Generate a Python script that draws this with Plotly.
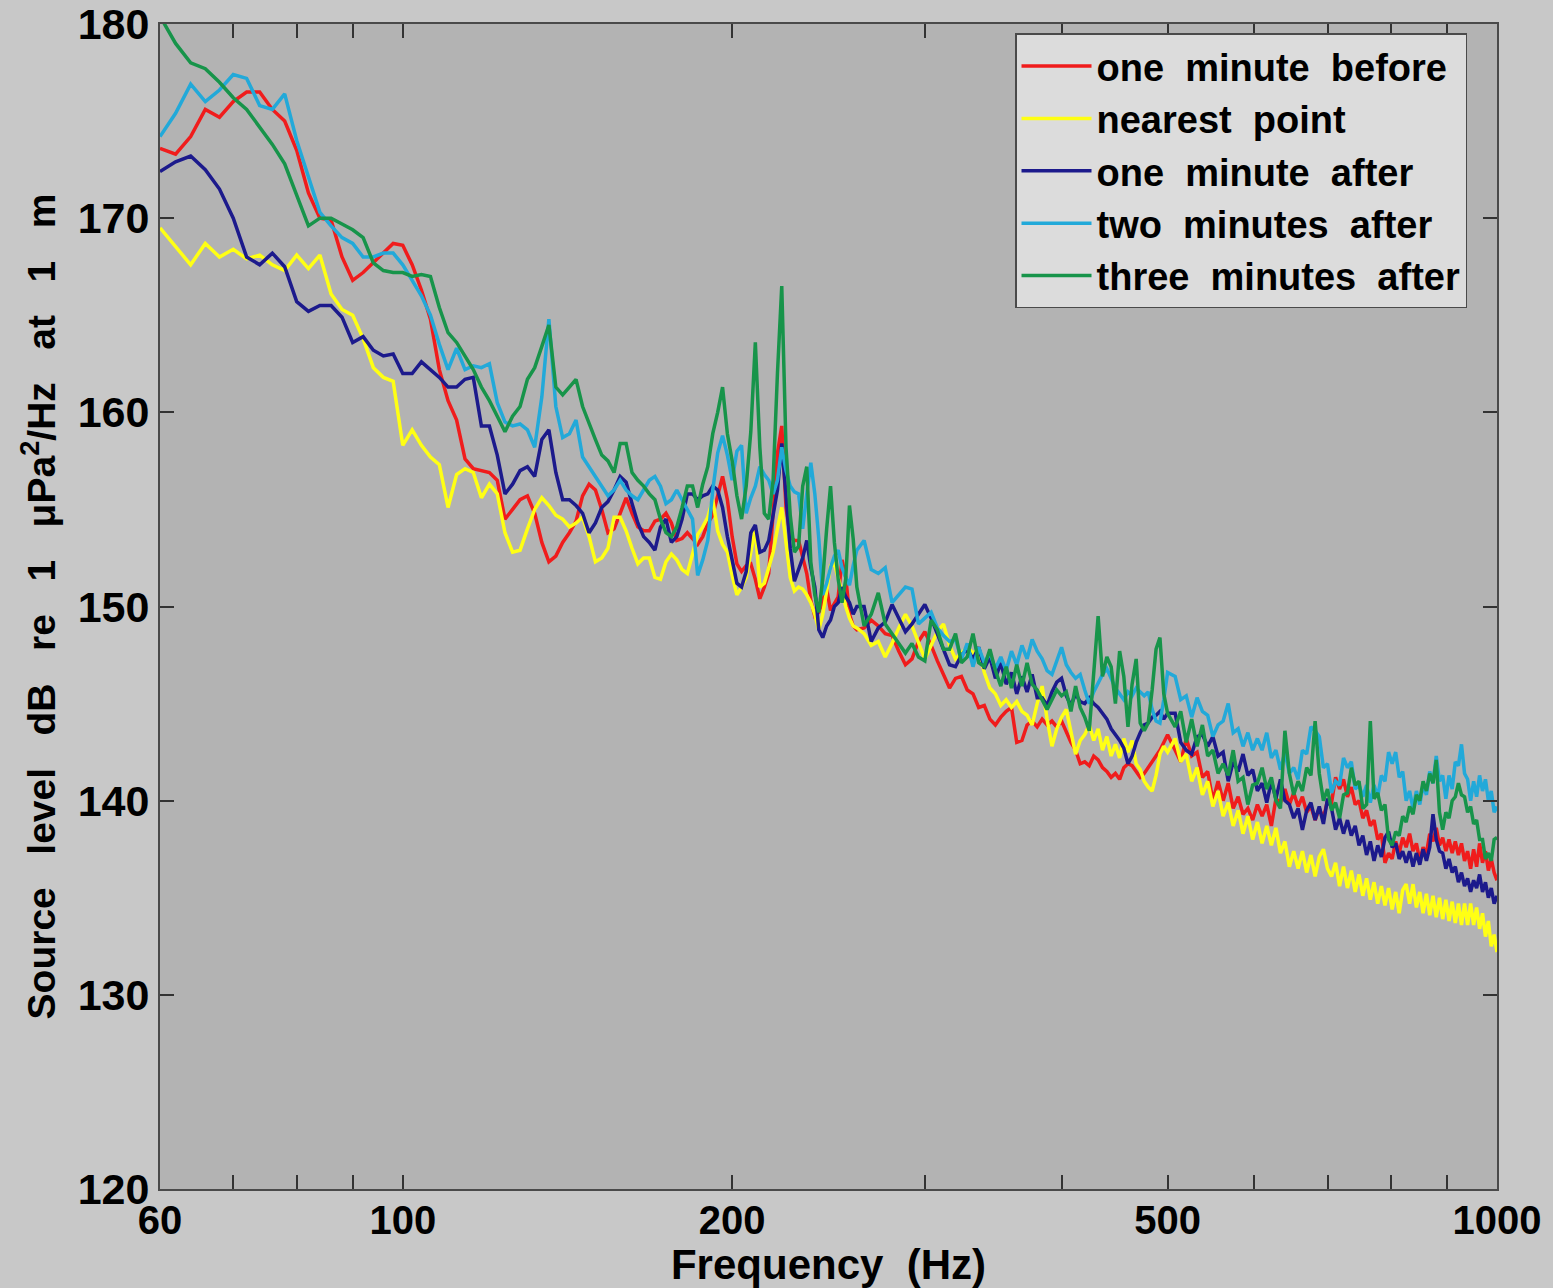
import math
import plotly.graph_objects as go

# ---------------- frequency grid (Hz) ----------------
FREQ_A = [60, 62, 64, 66, 68, 70, 72, 74, 76, 78, 80, 82, 84, 86, 88, 90, 92, 94, 96, 98,
          100, 102, 104, 106, 108, 110, 112, 114, 116, 118, 120, 122, 124, 126, 128, 130, 132, 134, 136, 138,
          140, 142, 144, 146, 148, 150, 152, 154, 156, 158, 160, 162, 164, 166, 168, 170, 172, 174, 176, 178,
          180, 182, 184, 186, 188, 190, 192, 194, 196, 198, 200, 202, 204, 206, 208, 210, 212, 214, 216, 218,
          220, 222, 224, 226, 228, 230, 232, 234, 236, 238, 240, 242, 244, 246, 248, 250, 252, 254, 256, 258, 260]
FREQ_B = [264, 268, 272, 276, 280, 284, 288, 292, 296, 300, 304, 308, 312, 316, 320, 324, 328, 332, 336, 340,
          344, 348, 352, 356, 360, 364, 368, 372, 376, 380, 384, 388, 392, 396, 400, 404, 408, 412, 416, 420,
          424, 428, 432, 436, 440, 444, 448, 452, 456, 460, 464, 468, 472, 476, 480, 484, 488, 492, 496, 500]
FREQ_C = [508, 514, 520, 526, 532, 538, 544, 550, 556, 562, 568, 574, 580, 586, 592, 598, 604, 610, 616, 622,
          628, 634, 640, 646, 652, 658, 664, 670, 676, 682, 688, 694, 700, 706, 712, 718, 724, 730, 736, 742,
          748, 754, 760, 766, 772, 778, 784, 790, 796, 802, 808, 814, 820, 826, 832, 838, 844, 850, 856, 862,
          868, 874, 880, 886, 892, 898, 904, 910, 916, 922, 928, 934, 940, 946, 952, 958, 964, 970, 976, 982,
          988, 994, 1000]
FREQ = FREQ_A + FREQ_B + FREQ_C

# ---------------- series (dB re 1 uPa^2/Hz at 1 m) ----------------
RED_A = [173.6, 173.3, 174.2, 175.6, 175.2, 176.0, 176.5, 176.5, 175.6, 175.0, 173.5, 171.3, 170.0, 169.9, 168.0, 166.8,
         167.2, 167.7, 168.2, 168.7, 168.6, 167.6, 166.3, 164.8, 162.2, 160.6, 159.6, 157.6, 157.1, 157.0, 156.9, 156.5,
         154.5, 155.0, 155.5, 155.7, 154.8, 153.3, 152.3, 152.6, 153.3, 153.8, 154.4, 155.7, 156.3, 156.0, 155.0, 153.8,
         154.0, 154.8, 155.6, 154.8, 154.1, 153.9, 153.9, 154.4, 154.5, 154.8, 154.3, 153.4, 153.5, 153.8, 153.5, 153.2,
         153.6, 154.3, 154.7, 155.7, 156.7, 155.5, 153.6,
         152.2, 151.8, 152.1, 152.2, 151.4, 150.4, 151.0, 151.7, 154.8, 157.9, 159.3, 155.1, 153.6, 153.4, 153.4, 152.6,
         151.7, 150.3, 149.5, 149.7, 150.3, 150.9, 149.8, 150.2, 150.5, 152.4, 151.5, 149.6, 149.0, 148.8]
RED_B = [148.9, 149.3, 149.0, 148.6, 148.5, 147.7, 147.0, 147.3, 148.2, 148.7, 148.0, 147.2, 146.5, 145.8, 146.3, 146.4,
         145.7, 145.5, 144.8, 144.9, 144.2, 143.9, 144.3, 144.6, 144.8, 143.0, 143.1, 143.9, 144.1, 143.8, 144.2, 143.9,
         144.1, 143.8, 144.1, 143.5, 143.0, 142.6, 141.9, 142.0, 141.8, 142.3, 142.1, 141.7, 141.5, 141.2, 141.4, 141.1,
         141.7, 141.9, 141.8, 141.5, 141.2, 141.4, 141.7, 142.0, 142.3, 142.6, 143.0, 143.4]
RED_C = [142.6, 142.0, 143.2, 142.3, 142.5, 141.2, 141.5, 140.0, 141.0, 140.0, 140.9, 139.6, 140.2, 139.3, 139.6, 139.0,
         139.8, 139.2, 139.8, 138.7, 140.1, 139.9, 140.6, 139.8, 140.4, 139.7, 140.2, 139.4, 139.7, 139.0, 139.6, 139.1,
         140.0, 139.9, 141.2, 140.6, 141.1, 140.2, 140.7, 139.8, 140.0, 139.1, 139.5, 138.7, 139.0, 138.0, 138.3, 136.8,
         137.3, 137.0, 137.9, 137.3, 138.1, 137.6, 138.3, 137.4, 137.8, 136.9, 137.6, 137.3, 138.3, 137.9, 138.6, 137.7,
         138.1, 137.4, 138.0, 137.3, 137.9, 137.2, 137.8, 136.9, 137.4, 136.5, 137.5, 136.6, 137.8, 136.8, 137.4, 136.4,
         137.0, 136.3, 135.9]

YELLOW_A = [169.5, 168.5, 167.6, 168.7, 168.0, 168.4, 167.9, 168.1, 167.6, 167.3, 168.1, 167.4, 168.1, 166.1, 165.3, 165.0,
            163.8, 162.3, 161.8, 161.6, 158.3, 159.1, 158.3, 157.7, 157.3, 155.1, 156.8, 157.1, 156.9, 155.6, 156.3, 155.8,
            153.8, 152.8, 152.9, 154.0, 155.0, 155.6, 155.2, 154.7, 154.5, 154.1, 154.3, 154.6, 153.6, 152.3, 152.5, 153.0,
            154.6, 154.6, 153.9, 153.0, 152.2, 152.5, 152.5, 151.5, 151.4, 152.3, 152.7, 152.4, 151.9, 151.7, 152.7, 153.7,
            154.1, 154.6, 155.5, 153.9, 153.2, 152.8, 151.6,
            150.6, 151.0, 151.5, 152.8, 154.0, 151.0, 151.2, 152.0, 152.8, 154.0, 155.1, 153.3, 151.5, 150.8, 151.0, 150.9,
            150.6, 150.2, 149.6, 148.8, 149.6, 150.8, 152.1, 152.2, 151.4, 150.7, 150.0, 149.4, 149.0, 148.9]
YELLOW_B = [148.6, 148.0, 148.2, 147.4, 148.1, 148.9, 149.6, 149.0, 148.2, 147.3, 148.0, 148.7, 149.1, 148.0, 147.3, 147.6,
            147.9, 147.6, 147.8, 146.6, 145.8, 145.5, 144.9, 145.2, 144.8, 145.1, 144.6, 144.4, 143.9, 145.0, 145.9, 144.2,
            142.8, 143.7, 144.3, 144.7, 143.5, 142.4, 143.1, 143.4, 143.9, 143.1, 143.7, 142.6, 143.3, 142.3, 142.9, 142.2,
            143.2, 142.5, 143.1, 141.9, 141.6, 141.0, 140.7, 140.5, 141.3, 142.4, 142.8, 142.5]
YELLOW_C = [143.2, 142.0, 142.4, 141.0, 141.7, 140.3, 141.0, 139.7, 140.5, 139.2, 139.9, 138.7, 139.5, 138.3, 139.2, 138.0,
            138.9, 137.8, 138.7, 137.7, 138.6, 137.3, 137.9, 136.6, 137.4, 136.5, 137.4, 136.3, 137.2, 136.1, 137.1, 137.5,
            136.5, 136.1, 136.8, 135.6, 136.6, 135.5, 136.4, 135.3, 136.2, 135.1, 136.0, 134.9, 135.8, 134.7, 135.6, 134.6,
            135.5, 134.4, 135.3, 134.2, 135.4, 135.7, 134.7, 135.7, 134.5, 135.3, 134.2, 135.2, 134.1, 135.1, 134.0, 135.0,
            133.9, 134.9, 133.8, 134.8, 133.7, 134.7, 133.6, 134.7, 133.6, 134.7, 133.6, 134.5, 133.4, 134.2, 133.0, 133.8,
            132.5, 133.1, 132.2]

NAVY_A = [172.4, 172.9, 173.2, 172.5, 171.5, 170.0, 168.0, 167.6, 168.2, 167.5, 165.7, 165.2, 165.5, 165.5, 164.9, 163.6,
          163.9, 163.2, 162.9, 163.0, 162.0, 162.0, 162.6, 162.2, 161.8, 161.3, 161.3, 161.7, 161.8, 159.3, 159.3, 157.8,
          155.8, 156.3, 157.0, 157.2, 156.7, 158.6, 159.1, 156.9, 155.5, 155.5, 155.2, 154.8, 153.8, 154.3, 155.1, 155.4,
          156.0, 156.7, 156.4, 155.3, 154.3, 153.6, 153.3, 152.9, 154.1, 154.5, 153.3, 153.6, 154.5, 155.8, 155.8, 155.5,
          155.7, 155.8, 156.2, 156.0, 155.1, 153.6, 152.4,
          151.2, 151.0, 151.8, 153.8, 154.2, 152.8, 152.9, 153.4, 154.6, 156.0, 158.4, 155.6, 153.0, 151.3, 151.9, 152.5,
          153.4, 152.0, 151.0, 148.8, 148.4, 149.0, 149.3, 150.0, 150.2, 151.0, 150.5, 150.2, 149.6, 150.0]
NAVY_B = [150.0, 148.2, 148.9, 149.2, 150.1, 149.4, 148.7, 149.1, 149.6, 150.1, 149.4, 148.6, 147.9, 147.0, 146.9, 147.5,
          147.8, 147.3, 147.9, 146.8, 147.4, 146.3, 147.1, 146.0, 146.6, 145.5, 146.4, 145.6, 146.5, 145.3, 145.3, 144.9,
          145.6, 146.1, 146.3, 145.4, 144.9, 145.5, 145.1, 145.0, 145.3, 145.0, 144.8, 144.5, 144.2, 143.7, 143.4, 143.1,
          142.7, 141.9, 142.3, 143.0, 143.5, 143.9, 144.0, 144.3, 144.4, 144.6, 144.2, 144.5]
NAVY_C = [144.5, 143.0, 142.6, 142.4, 143.3, 143.4, 142.8, 143.3, 142.3, 142.5, 141.0, 142.0, 141.5, 142.4, 141.3, 141.6,
          140.5, 140.9, 139.9, 141.0, 140.1, 141.1, 140.0, 139.8, 139.1, 139.6, 138.5, 139.5, 139.9, 139.0, 139.7, 138.8,
          140.1, 139.6, 138.5, 139.1, 138.3, 139.0, 138.2, 138.7, 137.7, 138.2, 137.2, 137.9, 136.9, 137.7, 137.1, 138.1,
          138.4, 137.6, 137.8, 137.0, 137.4, 136.8, 137.4, 136.6, 137.3, 136.7, 137.5, 136.9, 137.6, 139.3, 138.0, 137.4,
          137.3, 136.5, 137.0, 136.3, 136.6, 135.8, 136.3, 135.6, 136.0, 135.3, 135.9, 135.5, 136.2, 135.3, 135.8, 135.0,
          135.5, 134.7, 135.1]

CYAN_A = [174.2, 175.4, 176.9, 176.0, 176.6, 177.4, 177.2, 175.8, 175.6, 176.4, 174.0, 172.1, 170.3, 169.6, 169.0, 168.7,
          168.0, 168.0, 168.2, 168.2, 167.6, 166.8, 166.0, 165.0, 163.5, 162.2, 163.3, 162.2, 162.4, 162.3, 162.5, 160.5,
          159.5, 159.3, 159.4, 159.1, 158.2, 160.8, 164.8, 160.3, 158.7, 158.9, 159.6, 157.7, 157.2, 156.7, 156.2, 155.7,
          156.0, 156.5, 156.0, 155.7, 155.5, 156.0, 156.5, 156.7, 156.2, 155.3, 155.5, 156.0, 155.5, 155.0, 154.5, 151.6,
          152.4, 153.4, 156.0, 157.9, 158.8, 157.8, 156.5,
          158.0, 158.3, 154.8, 155.6, 156.2, 157.2, 156.8, 156.5, 155.8, 156.5, 158.2, 157.0, 156.2, 155.9, 155.8, 154.0,
          155.8, 157.4, 155.8, 153.5, 150.6, 151.2, 152.0, 152.6, 152.9, 152.0, 151.5, 151.1, 152.1, 152.9]
CYAN_B = [153.4, 151.9, 151.7, 152.0, 150.2, 150.6, 151.0, 150.9, 149.1, 149.4, 149.7, 148.9, 148.5, 148.2, 148.3, 147.3,
          148.1, 146.9, 147.9, 147.1, 147.6, 146.8, 147.4, 146.7, 147.7, 147.0, 148.0, 147.3, 148.3, 147.7, 147.3, 146.7,
          146.5, 147.2, 147.9, 147.0, 146.6, 146.3, 146.5, 145.7, 145.0, 145.6, 146.1, 146.5, 146.8, 146.3, 145.8, 145.5,
          145.2, 145.6, 145.4, 145.8, 145.6, 145.4, 145.6, 144.7, 144.1, 144.0, 145.2, 146.6]
CYAN_C = [146.4, 145.2, 145.4, 144.3, 145.3, 144.6, 144.4, 143.3, 143.9, 144.1, 145.0, 143.5, 143.7, 142.8, 143.5, 142.6,
          143.2, 142.6, 143.5, 142.2, 142.6, 141.6, 142.5, 141.4, 141.7, 141.1, 142.6, 142.4, 143.8, 143.6, 143.3, 141.7,
          141.9, 140.4, 141.0, 140.8, 142.2, 141.7, 142.0, 140.6, 140.8, 140.2, 140.8, 139.9, 140.8, 140.2, 141.3, 141.0,
          142.5, 141.9, 142.5, 141.2, 141.5, 140.0, 140.5, 139.6, 140.5, 139.8, 140.8, 140.3, 141.5, 140.9, 142.3, 141.0,
          141.3, 140.1, 141.3, 140.6, 142.0, 141.8, 142.9, 141.4, 141.1, 140.0, 141.0, 140.2, 141.3, 140.5, 141.1, 140.0,
          140.5, 139.4, 139.7]

GREEN_A = [180.4, 179.0, 178.0, 177.7, 177.0, 176.2, 175.6, 174.7, 173.8, 172.8, 171.2, 169.6, 170.0, 170.0, 169.7, 169.4,
           169.0, 167.7, 167.3, 167.2, 167.2, 167.0, 167.1, 167.0, 165.4, 164.1, 163.6, 162.9, 162.2, 161.3, 160.6, 159.8,
           159.0, 159.8, 160.3, 161.7, 162.3, 163.4, 164.5, 161.3, 160.9, 161.3, 161.7, 160.3, 159.4, 158.6, 157.8, 157.5,
           156.9, 158.4, 158.4, 156.9, 156.5, 156.2, 155.8, 155.5, 154.5, 153.8, 153.6, 154.1, 155.1, 156.2, 156.2, 155.1,
           156.3, 157.2, 158.9, 160.0, 161.3, 158.9, 157.5,
           155.7, 154.5, 156.2, 159.0, 163.6, 158.2, 154.8, 154.5, 156.5, 162.0, 166.5, 158.2, 154.7, 152.8, 153.1, 156.2,
           157.2, 152.3, 150.6, 149.7, 151.4, 154.0, 156.2, 153.3, 151.4, 150.2, 151.4, 155.2, 153.5, 151.0]
GREEN_B = [149.0, 149.6, 150.7, 149.1, 148.6, 148.1, 147.6, 148.1, 147.4, 147.2, 149.3, 148.8, 147.8, 147.8, 148.6, 147.1,
           147.4, 148.6, 147.1, 146.9, 147.8, 146.7, 145.9, 146.9, 145.8, 147.0, 145.9, 147.1, 146.0, 145.7, 145.2, 144.7,
           145.2, 145.7, 145.4, 145.6, 144.6, 145.9, 144.8, 144.3, 143.6, 146.4, 149.5, 146.4, 147.4, 146.9, 145.0, 147.7,
           146.4, 143.8, 146.0, 147.3, 144.0, 143.6, 144.0, 145.7, 147.8, 148.4, 145.5, 144.5]
GREEN_C = [143.8, 144.6, 143.0, 144.2, 142.8, 143.9, 142.3, 142.6, 141.4, 141.9, 141.3, 142.6, 141.0, 141.2, 139.8, 140.8,
           140.9, 141.7, 140.6, 141.2, 140.0, 139.6, 143.6, 141.4, 140.3, 141.0, 140.5, 141.7, 141.3, 144.1, 141.4, 140.0,
           140.6, 139.5, 139.9, 139.1, 140.3, 140.4, 141.7, 140.8, 141.0, 139.6, 139.8, 144.1, 140.1, 140.4, 139.5, 139.8,
           138.0, 137.7, 138.4, 138.2, 139.2, 138.9, 139.7, 139.3, 140.3, 140.0, 141.0, 140.5, 141.4, 140.9, 142.1, 139.4,
           138.5, 139.4, 139.1, 140.0, 140.2, 140.9, 140.3, 140.2, 139.4, 139.7, 138.8, 139.0, 138.0, 138.0, 137.0, 137.3,
           136.9, 138.0, 138.1]

RED = RED_A + RED_B + RED_C
YELLOW = YELLOW_A + YELLOW_B + YELLOW_C
NAVY = NAVY_A + NAVY_B + NAVY_C
CYAN = CYAN_A + CYAN_B + CYAN_C
GREEN = GREEN_A + GREEN_B + GREEN_C

NB = "\u00a0\u00a0"
NB3 = "\u00a0\u00a0\u00a0"
SERIES_NAMES = ["one" + NB + "minute" + NB + "before",
                "nearest" + NB + "point",
                "one" + NB + "minute" + NB + "after",
                "two" + NB + "minutes" + NB + "after",
                "three" + NB + "minutes" + NB + "after"]
SERIES_VALUES = [RED, YELLOW, NAVY, CYAN, GREEN]
SERIES_COLORS = ["#f01c1c", "#ffff14", "#1c1a8c", "#22a9d9", "#17944a"]

X_TICKS = [60, 70, 80, 90, 100, 200, 300, 400, 500, 600, 700, 800, 900, 1000]
X_TICK_TEXT = ["60", "", "", "", "100", "200", "", "", "500", "", "", "", "", "1000"]
Y_TICKS = [120, 130, 140, 150, 160, 170, 180]
Y_TITLE = NB3.join(["Source", "level", "dB", "re", "1", "\u03bcPa<sup>2</sup>/Hz", "at", "1", "m"])
X_TITLE = "Frequency" + NB + "(Hz)"

fig = go.Figure()
for name, vals, col in zip(SERIES_NAMES, SERIES_VALUES, SERIES_COLORS):
    n = min(len(vals), len(FREQ))
    fig.add_trace(go.Scatter(x=FREQ[:n], y=vals[:n], mode="lines", name=name,
                             line=dict(color=col, width=3.5)))

FONT = "Liberation Sans, Arial, Helvetica, sans-serif"
fig.update_layout(
    width=1553, height=1288,
    margin=dict(l=160, r=56, t=24, b=99, autoexpand=False),
    paper_bgcolor="#c8c8c8",
    plot_bgcolor="#b3b3b3",
    font=dict(family=FONT, size=38, color="black", weight="bold"),
    showlegend=True,
    legend=dict(x=0.6395, y=0.992, xanchor="left", yanchor="top",
                bgcolor="#dcdcdc", bordercolor="#4a4a4a", borderwidth=1.5,
                font=dict(family=FONT, size=38, color="black", weight="bold"),
                itemwidth=70, tracegroupgap=0),
)
fig.update_xaxes(
    type="log", range=[math.log10(60), math.log10(1000)],
    tickvals=X_TICKS, ticktext=X_TICK_TEXT,
    ticks="inside", ticklen=14, tickwidth=1.5, tickcolor="#333333",
    showline=True, linecolor="#4a4a4a", linewidth=2, mirror="allticks",
    showgrid=False, zeroline=False, automargin=False,
    ticklabelstandoff=-5,
    tickfont=dict(family=FONT, size=40, weight="bold"),
    title=dict(text=X_TITLE, font=dict(family=FONT, size=42, weight="bold"), standoff=4),
)
fig.update_yaxes(
    range=[120, 180], tickvals=Y_TICKS,
    ticks="inside", ticklen=14, tickwidth=1.5, tickcolor="#333333",
    showline=True, linecolor="#4a4a4a", linewidth=2, mirror="allticks",
    showgrid=False, zeroline=False, automargin=False,
    tickfont=dict(family=FONT, size=43, weight="bold"),
    title=dict(text=Y_TITLE, font=dict(family=FONT, size=39, weight="bold"), standoff=10),
)

fig.write_html("out.html", config={"displayModeBar": False},
               post_script="document.body.style.margin='0px';document.body.style.backgroundColor='#c8c8c8';")
